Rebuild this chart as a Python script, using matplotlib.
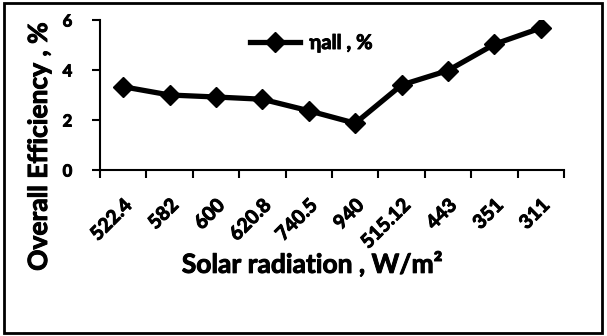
import matplotlib
matplotlib.use("Agg")
import matplotlib.pyplot as plt
import matplotlib.patheffects as pe
from matplotlib.patches import Rectangle

categories = ["522.4", "582", "600", "620.8", "740.5", "940", "515.12", "443", "351", "311"]
efficiency = [3.33, 3.0, 2.92, 2.83, 2.37, 1.87, 3.4, 3.98, 5.03, 5.68]
yticks = [0, 2, 4, 6]

plt.rcParams['font.family'] = ['Lato', 'DejaVu Sans']
WT = 'bold'
FX = [pe.Stroke(linewidth=0.7, foreground='black'), pe.Normal()]

W, H = 607, 336
fig = plt.figure(figsize=(W / 100, H / 100), dpi=100)
ax = fig.add_axes([100 / W, 1 - 170 / H, 464 / W, 150 / H])

x = list(range(len(categories)))
ax.plot(x, efficiency, color='black', lw=3.8, marker='D', markersize=10,
        markerfacecolor='black', markeredgecolor='black', label='ηall , %')

ax.set_xlim(-0.5, len(categories) - 0.5)
ax.set_ylim(0, 6)
ax.set_yticks(yticks)
ax.set_yticklabels([str(v) for v in yticks], fontsize=12, fontweight=WT)

ax.set_xticks([i - 0.5 for i in range(len(categories) + 1)], minor=False)
ax.set_xticklabels([])
ax.set_xticks(x, minor=True)
ax.set_xticklabels(categories, minor=True, rotation=45, ha='right',
                   rotation_mode='anchor', fontsize=14, fontweight=WT)
ax.tick_params(axis='x', which='minor', length=0, pad=19)
ax.tick_params(axis='x', which='major', direction='out', length=6, width=1.5)
ax.tick_params(axis='y', which='major', direction='out', length=6, width=1.5, pad=14)

for s in ['top', 'right']:
    ax.spines[s].set_visible(False)
for s in ['left', 'bottom']:
    ax.spines[s].set_linewidth(1.5)

ax.set_xlabel('Solar radiation , W/m²', fontsize=19, fontweight=WT)
ax.xaxis.set_label_coords((312 - 100) / 464, (170 - 251) / 150)
ax.set_ylabel('Overall Efficiency , %', fontsize=19, fontweight=WT)
ax.yaxis.set_label_coords((51 - 100) / 464, (170 - 147) / 150)

leg = ax.legend(loc='center left', bbox_to_anchor=((250 - 100) / 464, (170 - 43) / 150),
                frameon=False, borderpad=0, borderaxespad=0,
                handlelength=2.5, handletextpad=0.45,
                prop={'weight': WT, 'size': 14.5})

for t in ax.get_xticklabels(minor=True) + ax.get_yticklabels() + leg.get_texts() + \
        [ax.xaxis.label, ax.yaxis.label]:
    t.set_path_effects(FX)

fig.patches.append(Rectangle((4 / W, 3 / H), 598 / W, 330 / H, transform=fig.transFigure,
                             fill=False, edgecolor='black', lw=2))

fig.savefig('out.png', dpi=100)
